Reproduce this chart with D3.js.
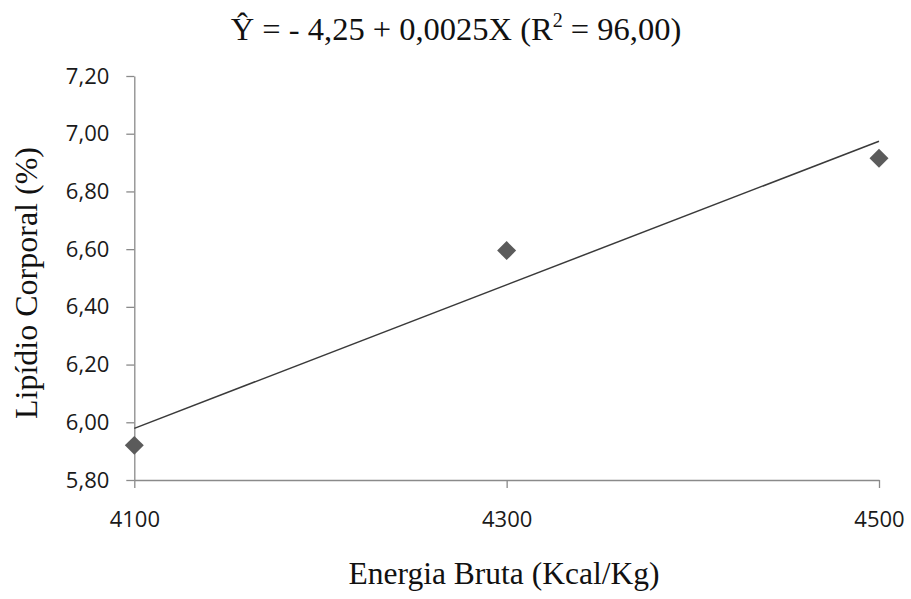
<!DOCTYPE html>
<html>
<head>
<meta charset="utf-8">
<script src="https://cdn.jsdelivr.net/npm/d3@7"></script>
<style>
  body { margin: 0; background: #fff; }
  svg { display: block; }
</style>
</head>
<body>
<div id="chart-container"></div>
<script>
// observed points (Energia Bruta vs Lipidio Corporal)
const energia = [4100, 4300, 4500];
const lipidio = [5.92, 6.595, 6.915];

// trend line end values
const trendX = [4100, 4500];
const trendY = [5.979, 6.974];

// y axis ticks
const yTicks = [5.8, 6.0, 6.2, 6.4, 6.6, 6.8, 7.0, 7.2];

function drawChart() {
    const W = 911, H = 599;
    const left = 134.3, right = 879, top = 76, bottom = 480;

    const svg = d3.select("#chart-container")
        .append("svg")
        .attr("width", W)
        .attr("height", H);

    const x = d3.scaleLinear().domain([4100, 4500]).range([left, right]);
    const y = d3.scaleLinear().domain([5.8, 7.2]).range([bottom, top]);

    const fmt = d => d3.format(".2f")(d).replace(".", ",");
    const axisColor = "#8a8a8a";

    // y axis
    const yAxis = svg.append("g")
        .attr("transform", `translate(${left},0)`)
        .call(d3.axisLeft(y).tickValues(yTicks).tickFormat(fmt).tickSize(8).tickSizeOuter(0).tickPadding(17));
    yAxis.select(".domain").attr("stroke", axisColor).attr("stroke-width", 1.3);
    yAxis.selectAll(".tick line").attr("stroke", axisColor).attr("stroke-width", 1.3);
    yAxis.selectAll("text")
        .attr("fill", "#1a1a1a")
        .style("font-family", "'Open Sans', sans-serif")
        .style("font-size", "22px");

    // x axis
    const xAxis = svg.append("g")
        .attr("transform", `translate(0,${bottom})`)
        .call(d3.axisBottom(x).tickValues(energia).tickFormat(d3.format("d")).tickSize(8).tickSizeOuter(0).tickPadding(23));
    xAxis.select(".domain").attr("stroke", axisColor).attr("stroke-width", 1.3);
    xAxis.selectAll(".tick line").attr("stroke", axisColor).attr("stroke-width", 1.3);
    xAxis.selectAll("text")
        .attr("fill", "#1a1a1a")
        .style("font-family", "'Open Sans', sans-serif")
        .style("font-size", "22px");

    // trend line
    svg.append("line")
        .attr("x1", x(trendX[0])).attr("y1", y(trendY[0]))
        .attr("x2", x(trendX[1])).attr("y2", y(trendY[1]))
        .attr("stroke", "#3a3a3a")
        .attr("stroke-width", 1.5);

    // diamond markers
    const diamond = d3.symbol().type(d3.symbolSquare).size(180);
    svg.append("g")
        .selectAll("path")
        .data(energia.map((e, i) => ({ e, v: lipidio[i] })))
        .enter()
        .append("path")
        .attr("d", diamond)
        .attr("transform", d => `translate(${x(d.e)},${y(d.v)}) rotate(45)`)
        .attr("fill", "#5b5b5b");

    const serif = "'Liberation Serif', 'Times New Roman', serif";

    // title
    const title = svg.append("text")
        .attr("x", 456)
        .attr("y", 40)
        .attr("text-anchor", "middle")
        .style("font-family", serif)
        .style("font-size", "32.5px")
        .attr("fill", "#111");
    title.append("tspan").text("Ŷ = - 4,25 + 0,0025X (R");
    title.append("tspan").attr("dy", -13).style("font-size", "20px").text("2");
    title.append("tspan").attr("dy", 13).text(" = 96,00)");

    // axis titles
    svg.append("text")
        .attr("x", 504)
        .attr("y", 584)
        .attr("text-anchor", "middle")
        .style("font-family", serif)
        .style("font-size", "31.5px")
        .attr("fill", "#111")
        .text("Energia Bruta (Kcal/Kg)");

    svg.append("text")
        .attr("transform", "translate(37,283) rotate(-90)")
        .attr("text-anchor", "middle")
        .style("font-family", serif)
        .style("font-size", "32px")
        .attr("fill", "#111")
        .text("Lipídio Corporal (%)");
}

window.onload = () => {
    drawChart();
};
</script>
</body>
</html>
